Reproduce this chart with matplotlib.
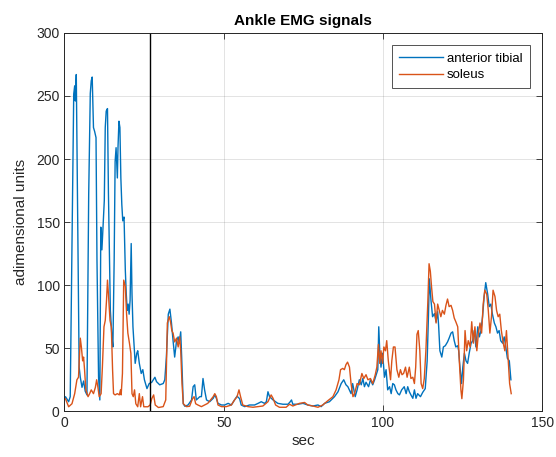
import numpy as np
import matplotlib
matplotlib.use("Agg")
import matplotlib.pyplot as plt

# anterior tibial EMG (time in sec, value in adimensional units)
t_tibial = [0.0, 0.3, 1.3, 1.8, 2.9, 3.2, 3.4, 3.7, 4.6, 4.96, 5.5, 6.0, 6.5, 7.05, 7.6, 8.1, 8.4, 8.7,
            9.1, 9.45, 9.9, 10.2, 10.7, 11.1, 11.4, 11.75, 12.1, 12.5, 12.8, 13.1, 13.5, 13.8, 14.4, 14.9,
            15.2, 15.6, 15.9, 16.2, 16.6, 16.8, 17.1, 17.4, 17.7, 18.0, 18.3, 18.7, 18.9, 19.1, 19.4, 19.7,
            20.0, 20.3, 20.6, 20.95, 21.2, 21.5, 21.9, 22.2, 22.7, 23.0, 23.5, 24.1, 24.6, 25.1, 25.9, 26.6,
            27.4, 28.4, 28.9, 29.9, 31.0, 31.5, 32.0, 32.6, 33.1, 33.6, 34.1, 34.6, 35.2, 35.7, 36.0, 36.5,
            36.8, 37.3, 37.8, 38.8, 39.9, 40.4, 40.9, 41.4, 42.5, 43.0, 43.5, 44.0, 44.6, 45.6, 46.7, 47.2,
            47.7, 48.2, 49.3, 50.3, 51.4, 52.4, 53.4, 54.2, 55.0, 55.5, 56.6, 58.1, 59.7, 60.8, 61.8, 62.8,
            63.4, 63.9, 64.4, 65.5, 67.0, 68.6, 70.2, 70.9, 71.3, 71.7, 73.3, 74.9, 76.4, 78.0, 79.6, 80.6,
            81.7, 83.2, 84.8, 85.9, 86.9, 87.7, 88.4, 89.0, 90.0, 90.5, 91.3, 91.9, 92.6, 93.2, 93.7, 94.2,
            94.7, 95.5, 96.1, 96.8, 97.4, 97.9, 98.4, 98.7, 99.0, 99.4, 99.9, 100.5, 101.0, 101.5, 102.1,
            102.6, 103.1, 103.6, 104.1, 104.7, 105.2, 105.9, 106.7, 107.3, 107.8, 108.3, 108.8, 109.4, 109.9,
            110.4, 110.9, 111.8, 112.5, 113.3, 113.9, 114.3, 114.6, 115.1, 115.6, 116.2, 116.7, 117.2, 117.5,
            117.9, 118.5, 119.0, 119.6, 120.3, 120.8, 121.4, 121.9, 122.4, 122.9, 123.5, 123.8, 124.2, 124.7,
            125.1, 125.6, 126.1, 126.6, 127.1, 127.7, 128.2, 128.7, 129.2, 129.8, 130.3, 130.8, 131.3, 131.8,
            132.3, 132.9, 133.4, 133.9, 134.4, 135.0, 135.5, 136.0, 136.5, 137.0, 137.6, 138.1, 138.6, 139.1,
            139.7, 140.2]
tibial = [10, 11.6, 7.6, 11.6, 251.6, 258, 246, 267, 35, 27, 19, 24, 16, 13, 172, 252, 262, 265,
          225, 222, 217, 120, 27, 9, 146, 128, 146, 167, 225, 238, 240, 173, 80, 59,
          51, 120, 198, 209, 185, 209, 230, 225, 185, 164, 151, 154, 133, 112, 93, 80,
          85, 77, 88, 133, 93, 67, 51, 38, 46, 48, 38, 30, 33, 25, 18, 22,
          23, 27, 23.5, 21, 22, 25, 43, 77, 81, 70, 56, 43, 56, 59, 54, 63,
          43, 6, 4, 5, 9, 19.5, 21, 9, 11.6, 11.6, 26, 17, 9, 7.6, 10.3, 13,
          10.3, 6.3, 5, 5, 6.3, 5, 9, 12, 10, 5, 3.7, 5, 5, 6.3, 7.6, 6.3,
          7.6, 15.5, 11.6, 9, 6.3, 5.6, 5.6, 7.6, 9, 5.6, 5.6, 6.3, 5, 4.2, 5, 3.7,
          6.3, 7.6, 11.6, 15.5, 22, 25, 21, 19.5, 14, 22, 11.6, 17, 25, 21, 26, 19.5,
          23, 19.5, 25, 21, 25, 29, 33, 67, 48, 35, 46, 27, 33, 17, 19.5,
          14, 22, 21, 17, 14, 13, 17, 19.5, 14, 19.5, 15.5, 13, 10.3, 17,
          10.3, 14, 11.6, 15, 18, 40, 75, 105, 88, 75, 77.5, 71, 79, 68,
          48, 43, 51, 52, 55, 58, 62, 63, 56, 51, 52, 48, 35, 22,
          35, 46, 40, 38, 46, 54, 56, 64, 51, 67, 59, 64, 75, 91,
          102, 93, 83, 85, 77, 70, 67, 62, 64, 56, 54, 59, 51, 42,
          40, 25]

# soleus EMG
t_soleus = [0.0, 0.3, 1.3, 2.35, 3.2, 3.9, 4.4, 4.96, 5.3, 5.7, 6.0, 6.3, 6.7, 7.4, 7.9, 8.4, 9.1, 9.7,
            10.1, 10.5, 10.9, 11.5, 11.9, 12.4, 12.8, 13.2, 13.5, 13.8, 14.3, 14.7, 15.1, 15.4, 15.9, 16.6,
            17.2, 17.6, 17.8, 18.2, 18.6, 19.1, 19.5, 19.9, 20.4, 20.85, 21.2, 21.6, 22.0, 22.4, 23.0, 23.5,
            23.9, 24.5, 24.9, 25.5, 26.2, 26.9, 27.4, 28.0, 28.5, 29.5, 31.0, 31.8, 32.3, 32.9, 33.3, 33.7,
            34.1, 34.6, 35.2, 35.7, 36.2, 36.5, 36.9, 37.3, 38.3, 39.3, 40.2, 40.7, 41.2, 41.9, 43.0, 44.0,
            45.0, 46.7, 47.2, 47.7, 48.2, 49.3, 50.8, 52.4, 53.4, 54.2, 54.8, 55.3, 56.0, 57.6, 59.2, 60.8,
            62.3, 63.9, 64.9, 65.5, 66.3, 67.5, 69.6, 70.7, 71.7, 73.8, 75.4, 76.4, 78.0, 79.6, 81.1, 82.7,
            84.3, 85.3, 86.2, 86.7, 87.4, 87.9, 88.4, 88.9, 89.5, 90.0, 90.6, 91.1, 91.9, 92.6, 93.4, 94.0,
            94.7, 95.3, 96.1, 96.8, 97.6, 98.1, 98.6, 99.0, 99.4, 99.9, 100.3, 100.8, 101.2, 101.7, 102.4,
            102.8, 103.3, 103.8, 104.4, 105.0, 105.5, 106.0, 106.5, 107.1, 107.6, 108.3, 108.8, 109.4, 109.9,
            110.3, 110.7, 111.1, 111.6, 112.0, 112.5, 113.0, 113.5, 114.1, 114.5, 114.9, 115.3, 115.7, 116.2,
            116.7, 117.2, 117.7, 118.2, 118.7, 119.3, 119.8, 120.3, 120.8, 121.4, 121.9, 122.4, 122.9, 123.5,
            124.0, 124.5, 124.8, 125.3, 125.8, 126.3, 126.8, 127.4, 127.9, 128.4, 128.9, 129.5, 130.0, 130.5,
            131.0, 131.5, 132.0, 132.6, 133.1, 133.6, 134.1, 134.6, 135.2, 135.7, 136.2, 136.7, 137.2, 137.8,
            138.3, 138.8, 139.3, 139.8, 140.3]
soleus = [10, 10, 3.6, 6, 14, 25, 27, 58, 51, 40, 43, 33, 17, 11.6, 14, 17, 14, 19,
          25, 19, 11.6, 14, 35, 67, 72, 88, 104, 93, 72, 67, 33, 14, 13, 14,
          13, 17, 13, 30, 104, 99, 77, 62, 54, 46, 14, 11.6, 17, 6, 3.6, 14,
          3.6, 11.6, 3.6, 3.6, 3.6, 5, 10, 13, 5, 3, 3.7, 9, 70, 75, 71, 64,
          62, 55, 58, 51, 59, 48, 22, 6, 3.7, 4, 10, 11.6, 6, 5, 3.7, 5,
          6.3, 11.6, 14, 11.6, 5, 3.7, 3.7, 5, 9, 11.6, 17, 11.6, 5, 3.7, 3.2, 3.7,
          4.2, 7.6, 13, 10.3, 5, 3.2, 3.2, 5.6, 4.2, 6.3, 7, 5, 4.2, 3.2, 5, 8.4,
          11.6, 17, 25, 33, 34, 33, 37, 39, 35, 22, 11.6, 14, 22, 21, 30, 26,
          29, 25, 26, 22, 29, 35, 53, 38, 48, 38, 51, 48, 56, 40, 25,
          40, 51, 51, 33, 27, 33, 29, 30, 35, 27, 35, 26, 27, 22,
          35, 61, 64, 48, 22, 18, 26, 48, 86, 117, 111, 98, 87, 85,
          70, 85, 80, 75, 80, 77, 84, 89, 83, 84, 80, 74, 71, 67,
          40, 17, 10, 25, 64, 48, 56, 51, 71, 54, 67, 48, 62, 70,
          62, 85, 96, 93, 80, 62, 75, 96, 91, 80, 75, 77, 64, 54,
          48, 64, 43, 22, 14]

event_time = 27.0

plt.rcParams['font.family'] = ['Liberation Sans', 'DejaVu Sans']

fig = plt.figure(figsize=(5.56, 4.57), dpi=100)
ax = fig.add_axes([0.116, 0.100, 0.859, 0.828])

ax.plot(t_tibial, tibial, color='#0072BD', lw=1.0, label='anterior tibial')
ax.plot(t_soleus, soleus, color='#D95319', lw=1.0, label='soleus')
ax.axvline(event_time, color='black', lw=1.0)

ax.set_xlim(0, 150)
ax.set_ylim(0, 300)
ax.set_xticks([0, 50, 100, 150])
ax.set_yticks([0, 50, 100, 150, 200, 250, 300])
ax.grid(True, color='#262626', alpha=0.15, lw=0.6)
ax.set_axisbelow(True)
ax.tick_params(direction='in', length=4, width=0.6, colors='#262626', labelsize=10,
               top=True, right=True, labelcolor='#262626')
for s in ax.spines.values():
    s.set_color('#262626')
    s.set_linewidth(0.7)

ax.set_title('Ankle EMG signals', fontsize=11, fontweight='bold', pad=6)
ax.set_xlabel('sec', fontsize=11, color='#262626', labelpad=3)
ax.set_ylabel('adimensional units', fontsize=11, color='#262626', labelpad=6)

leg = ax.legend(loc='upper right', fontsize=9.5, frameon=True, fancybox=False,
                edgecolor='#262626', handlelength=3.3, handletextpad=0.3,
                borderaxespad=0.95, labelspacing=0.3, borderpad=0.55)
leg.get_frame().set_linewidth(0.7)

fig.savefig('out.png', dpi=100)
